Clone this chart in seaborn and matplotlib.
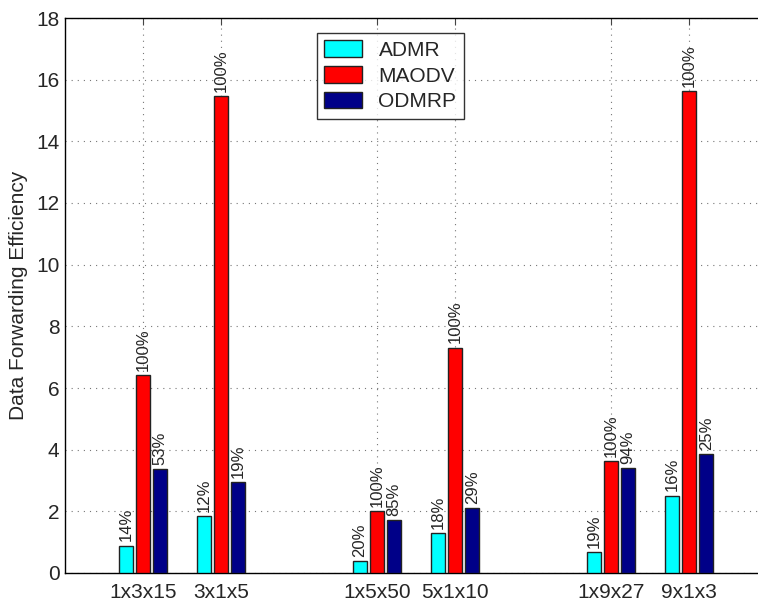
import matplotlib
matplotlib.use('Agg')
import matplotlib.pyplot as plt
import seaborn as sns
import pandas as pd
from matplotlib.patches import Patch

# data
scenarios = ['1x3x15', '3x1x5', '1x5x50', '5x1x10', '1x9x27', '9x1x3']
positions = [1, 2, 4, 5, 7, 8]
protocols = ['ADMR', 'MAODV', 'ODMRP']
admr = [0.89, 1.85, 0.39, 1.29, 0.68, 2.51]
maodv = [6.41, 15.48, 2.02, 7.31, 3.63, 15.62]
odmrp = [3.37, 2.95, 1.71, 2.11, 3.39, 3.86]
admr_pct = ['14%', '12%', '20%', '18%', '19%', '16%']
maodv_pct = ['100%', '100%', '100%', '100%', '100%', '100%']
odmrp_pct = ['53%', '19%', '85%', '29%', '94%', '25%']
colors = ['#00FFFF', '#FF0000', '#000088']

df = pd.DataFrame({
    'pos': positions * 3,
    'value': admr + maodv + odmrp,
    'protocol': [p for p in protocols for _ in positions],
})

sns.set_style('white')
plt.rcParams['font.family'] = ['Liberation Sans', 'DejaVu Sans']

fig = plt.figure(figsize=(7.58, 6.03), dpi=100)
ax = fig.add_axes([65 / 758, 30 / 603, 702 / 758, 555 / 603])

sns.barplot(data=df, x='pos', y='value', hue='protocol', hue_order=protocols,
            palette=colors, native_scale=True, width=0.66, gap=0.16,
            saturation=1, edgecolor='#222222', linewidth=1, legend=False,
            errorbar=None, ax=ax, zorder=3)

for cont, labels in zip(ax.containers, [admr_pct, maodv_pct, odmrp_pct]):
    ax.bar_label(cont, labels=labels, rotation=90, padding=3, fontsize=12)

ax.set_xlim(0, 9)
ax.set_ylim(0, 18)
ax.set_xticks(positions)
ax.set_xticklabels(scenarios)
ax.set_yticks(range(0, 19, 2))
ax.set_xlabel('')
ax.set_ylabel('Data Forwarding Efficiency', fontsize=15)
ax.yaxis.set_label_coords(-0.053, 0.5)
ax.tick_params(axis='both', labelsize=15, direction='in', length=5,
               top=True, right=False, width=0.8, color='#444444')
ax.tick_params(axis='x', pad=7)
ax.tick_params(axis='y', pad=4)

ax.grid(True, linestyle=(0, (1, 4.5)), color='#777777', linewidth=0.8, zorder=0)
ax.set_axisbelow(True)
for side in ['left', 'bottom', 'top']:
    ax.spines[side].set_color('black')
    ax.spines[side].set_linewidth(1)
ax.spines['right'].set_visible(False)

handles = [Patch(facecolor=c, edgecolor='#222222', linewidth=1) for c in colors]
leg = ax.legend(handles, protocols, loc='upper left',
                bbox_to_anchor=(317 / 758, 1 - 33 / 603),
                bbox_transform=fig.transFigure, fontsize=15, frameon=True,
                fancybox=False, handlelength=1.8, handleheight=0.85,
                labelspacing=0.3, handletextpad=0.8, borderpad=0.35,
                borderaxespad=0)
leg.get_frame().set_edgecolor('black')
leg.get_frame().set_linewidth(1)

fig.savefig('out.png', dpi=100)
